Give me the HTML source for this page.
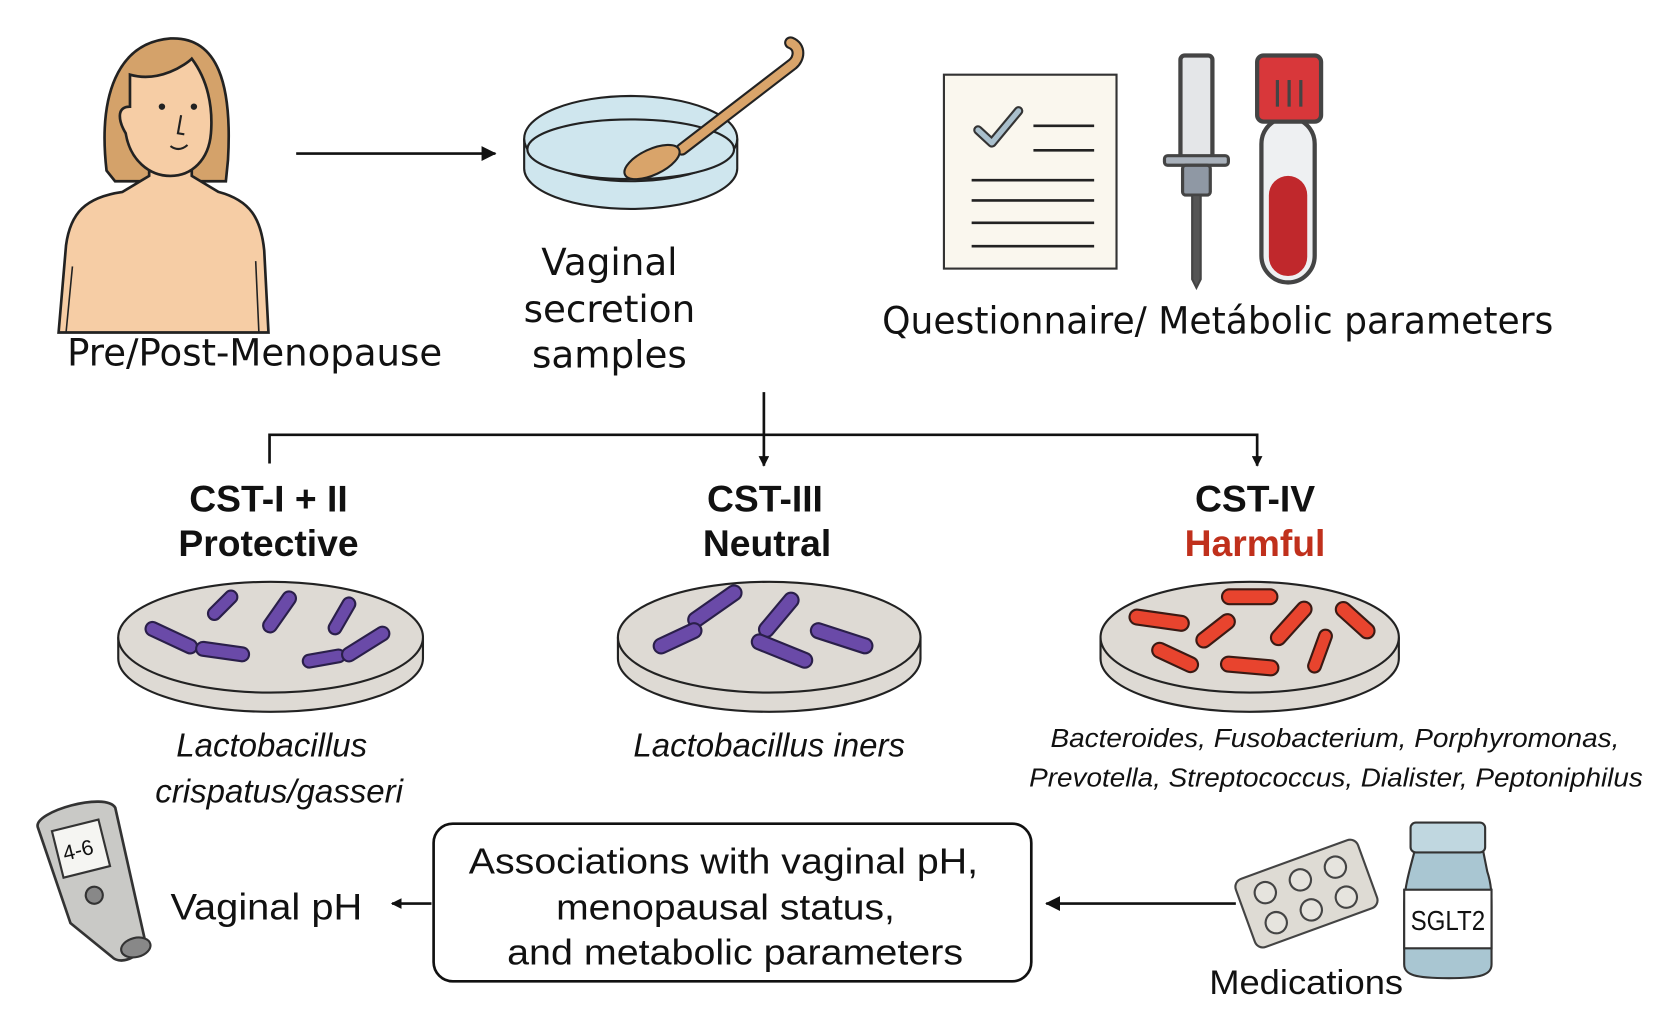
<!DOCTYPE html>
<html><head><meta charset="utf-8"><style>
html,body{margin:0;padding:0;background:#fff;}
svg{display:block;}
.t{font-family:"DejaVu Sans","Liberation Sans",sans-serif;fill:#111;}
.n{font-family:"Liberation Sans",sans-serif;fill:#111;}
.b{font-family:"Liberation Sans",sans-serif;font-weight:bold;fill:#111;}
.i{font-family:"Liberation Sans",sans-serif;font-style:italic;fill:#111;}
</style></head><body>
<svg width="1662" height="1023" viewBox="0 0 1560 960" xmlns="http://www.w3.org/2000/svg">
<defs>
<marker id="ah" markerWidth="10" markerHeight="10" refX="9" refY="5" orient="auto" markerUnits="userSpaceOnUse"><path d="M0,0 L10,5 L0,10 z" fill="#111"/></marker>
<marker id="ah2" markerWidth="14" markerHeight="14" refX="13" refY="7" orient="auto" markerUnits="userSpaceOnUse"><path d="M0,0 L14,7 L0,14 z" fill="#111"/></marker>
</defs>
<rect width="1560" height="960" fill="#fff"/>

<!-- Woman -->
<path d="M100,160 C92,90 110,40 160,36 C205,34 218,80 214,150 L212,170 L108,170 z" fill="#d4a26a" stroke="#222" stroke-width="2.5"/>
<path d="M55,312 L62,230 C66,200 80,185 115,180 L140,165 L140,140 L180,140 L180,165 L205,180 C235,188 245,205 248,235 L252,312 z" fill="#f6cda5" stroke="#222" stroke-width="2.5"/>
<path d="M122,70 C150,78 175,60 180,55 C195,75 200,100 198,125 C196,150 180,165 160,165 C140,165 122,150 118,125 C112,115 108,100 122,100 z" fill="#f6cda5" stroke="#222" stroke-width="2.5"/>
<circle cx="152" cy="100" r="3" fill="#222"/><circle cx="182" cy="100" r="3" fill="#222"/>
<path d="M170,108 L167,125 L173,126" fill="none" stroke="#222" stroke-width="2"/>
<path d="M160,137 Q168,143 176,136" fill="none" stroke="#222" stroke-width="2"/>
<path d="M68,250 L62,312 M240,245 L243,312" stroke="#222" stroke-width="1.5"/>
<text class="t" x="63" y="343" font-size="35" textLength="352" lengthAdjust="spacingAndGlyphs">Pre/Post-Menopause</text>

<line x1="278" y1="144" x2="465" y2="144" stroke="#111" stroke-width="2.5" marker-end="url(#ah2)"/>

<!-- petri dish -->
<path d="M492,130 L492,158 A100,38 0 0 0 692,158 L692,130" fill="#cfe6ee" stroke="#222" stroke-width="2"/>
<ellipse cx="592" cy="130" rx="100" ry="40" fill="#cfe6ee" stroke="#222" stroke-width="2"/>
<ellipse cx="592" cy="140" rx="97" ry="28" fill="#cfe6ee" stroke="#222" stroke-width="2"/>
<path d="M742,40 C752,44 750,55 744,60 L640,140" fill="none" stroke="#222" stroke-width="12" stroke-linecap="round"/>
<path d="M742,40 C752,44 750,55 744,60 L640,140" fill="none" stroke="#d9a46a" stroke-width="8" stroke-linecap="round"/>
<ellipse cx="612" cy="152" rx="28" ry="12" transform="rotate(-25 612 152)" fill="#d9a46a" stroke="#222" stroke-width="2"/>
<text class="t" font-size="35" text-anchor="middle" x="572" y="258">Vaginal</text>
<text class="t" font-size="35" text-anchor="middle" x="572" y="302">secretion</text>
<text class="t" font-size="35" text-anchor="middle" x="572" y="345">samples</text>

<!-- questionnaire -->
<rect x="886" y="70" width="162" height="182" fill="#faf7ee" stroke="#333" stroke-width="2"/>
<path d="M918,122 L931,134 L956,104" fill="none" stroke="#333" stroke-width="9" stroke-linecap="round" stroke-linejoin="round"/>
<path d="M918,122 L931,134 L956,104" fill="none" stroke="#a9bfcc" stroke-width="5" stroke-linecap="round" stroke-linejoin="round"/>
<g stroke="#222" stroke-width="2.5"><line x1="970" y1="118" x2="1027" y2="118"/><line x1="970" y1="141" x2="1027" y2="141"/><line x1="912" y1="169" x2="1027" y2="169"/><line x1="912" y1="188" x2="1027" y2="188"/><line x1="912" y1="209" x2="1027" y2="209"/><line x1="912" y1="231" x2="1027" y2="231"/></g>
<!-- lancet -->
<rect x="1108" y="52" width="30" height="100" rx="4" fill="#e4e6e8" stroke="#444" stroke-width="4"/>
<rect x="1093" y="146" width="60" height="9" rx="3" fill="#a9b1bb" stroke="#444" stroke-width="3"/>
<rect x="1110" y="155" width="26" height="28" rx="3" fill="#8f98a4" stroke="#444" stroke-width="3"/>
<path d="M1119,183 L1127,183 L1127,262 L1123,270 L1119,262 z" fill="#555" stroke="#444" stroke-width="2"/>
<!-- tube -->
<rect x="1184" y="110" width="50" height="155" rx="25" fill="#eef0f2" stroke="#444" stroke-width="4"/>
<rect x="1191" y="165" width="36" height="94" rx="18" fill="#c0282c"/>
<rect x="1180" y="52" width="60" height="62" rx="6" fill="#d8373a" stroke="#444" stroke-width="4"/>
<g stroke="#444" stroke-width="3"><line x1="1199" y1="75" x2="1199" y2="100"/><line x1="1210" y1="75" x2="1210" y2="100"/><line x1="1221" y1="75" x2="1221" y2="100"/></g>
<text class="t" x="828" y="313" font-size="35" textLength="630" lengthAdjust="spacingAndGlyphs">Questionnaire/ Metábolic parameters</text>

<line x1="717" y1="368" x2="717" y2="437" stroke="#111" stroke-width="2.5" marker-end="url(#ah)"/>
<polyline points="253,435 253,408 1180,408 1180,437" fill="none" stroke="#111" stroke-width="2.5" marker-end="url(#ah)"/>

<text class="b" font-size="35" text-anchor="middle" x="252" y="480">CST-I + II</text>
<text class="b" font-size="35" text-anchor="middle" x="252" y="522">Protective</text>
<text class="b" font-size="35" text-anchor="middle" x="718" y="480">CST-III</text>
<text class="b" font-size="35" text-anchor="middle" x="720" y="522">Neutral</text>
<text class="b" font-size="35" text-anchor="middle" x="1178" y="480">CST-IV</text>
<text class="b" font-size="35" text-anchor="middle" x="1178" y="522" style="fill:#c0301c">Harmful</text>

<g stroke="#222" stroke-width="2">
<path d="M111,598 L111,618 A143,50 0 0 0 397,618 L397,598" fill="#dedad4"/>
<ellipse cx="254" cy="598" rx="143" ry="52" fill="#dedad4"/>
<path d="M580,598 L580,618 A142,50 0 0 0 864,618 L864,598" fill="#dedad4"/>
<ellipse cx="722" cy="598" rx="142" ry="52" fill="#dedad4"/>
<path d="M1033,598 L1033,618 A140,50 0 0 0 1313,618 L1313,598" fill="#dedad4"/>
<ellipse cx="1173" cy="598" rx="140" ry="52" fill="#dedad4"/>
</g>
<g fill="#6a4aa8" stroke="#2a1f4a" stroke-width="2">
<rect x="192" y="562" width="34" height="12" rx="6" transform="rotate(-45 209 568)"/>
<rect x="240" y="568" width="44" height="13" rx="6.5" transform="rotate(-55 262 574)"/>
<rect x="302" y="572" width="38" height="12" rx="6" transform="rotate(-60 321 578)"/>
<rect x="135" y="592" width="52" height="13" rx="6.5" transform="rotate(25 161 598)"/>
<rect x="184" y="605" width="50" height="13" rx="6.5" transform="rotate(8 209 611)"/>
<rect x="284" y="612" width="40" height="12" rx="6" transform="rotate(-10 304 618)"/>
<rect x="318" y="598" width="50" height="13" rx="6.5" transform="rotate(-32 343 604)"/>
<rect x="642" y="562" width="58" height="14" rx="7" transform="rotate(-35 671 569)"/>
<rect x="612" y="592" width="48" height="14" rx="7" transform="rotate(-25 636 599)"/>
<rect x="706" y="570" width="50" height="14" rx="7" transform="rotate(-50 731 577)"/>
<rect x="704" y="604" width="60" height="14" rx="7" transform="rotate(22 734 611)"/>
<rect x="760" y="592" width="60" height="14" rx="7" transform="rotate(18 790 599)"/>
</g>
<g fill="#e8442e" stroke="#3a1a14" stroke-width="2">
<rect x="1147" y="553" width="52" height="14" rx="7"/>
<rect x="1060" y="575" width="56" height="14" rx="7" transform="rotate(8 1088 582)"/>
<rect x="1120" y="585" width="42" height="14" rx="7" transform="rotate(-38 1141 592)"/>
<rect x="1187" y="578" width="50" height="14" rx="7" transform="rotate(-48 1212 585)"/>
<rect x="1250" y="575" width="44" height="14" rx="7" transform="rotate(42 1272 582)"/>
<rect x="1080" y="610" width="46" height="14" rx="7" transform="rotate(25 1103 617)"/>
<rect x="1146" y="618" width="54" height="14" rx="7" transform="rotate(5 1173 625)"/>
<rect x="1218" y="605" width="42" height="12" rx="6" transform="rotate(-70 1239 611)"/>
</g>

<text class="i" font-size="31" text-anchor="middle" x="255" y="710">Lactobacillus</text>
<text class="i" font-size="31" text-anchor="middle" x="262" y="753">crispatus/gasseri</text>
<text class="i" font-size="31" text-anchor="middle" x="722" y="710">Lactobacillus iners</text>
<text class="i" font-size="24" x="986" y="701" textLength="534" lengthAdjust="spacingAndGlyphs">Bacteroides, Fusobacterium, Porphyromonas,</text>
<text class="i" font-size="24" x="966" y="738" textLength="576" lengthAdjust="spacingAndGlyphs">Prevotella, Streptococcus, Dialister, Peptoniphilus</text>

<g transform="rotate(-14 88 830)">
<path d="M50,765 C50,750 120,748 125,765 L122,890 C120,905 95,912 88,900 L58,860 z" fill="#c9c9c6" stroke="#333" stroke-width="2.5"/>
<rect x="62" y="772" width="45" height="45" fill="#f5f5f2" stroke="#333" stroke-width="2"/>
<text class="n" font-size="20" x="67" y="802">4-6</text>
<circle cx="86" cy="840" r="8" fill="#888" stroke="#333" stroke-width="2"/>
<ellipse cx="112" cy="897" rx="14" ry="9" fill="#888" stroke="#333" stroke-width="2"/>
</g>
<text class="n" x="160" y="863" font-size="35" textLength="180" lengthAdjust="spacingAndGlyphs">Vaginal pH</text>
<line x1="405" y1="848" x2="368" y2="848" stroke="#111" stroke-width="2.5" marker-end="url(#ah)"/>

<rect x="407" y="773" width="561" height="148" rx="18" fill="#fff" stroke="#111" stroke-width="2.5"/>
<text class="n" font-size="34" x="440" y="820" textLength="478" lengthAdjust="spacingAndGlyphs">Associations with vaginal pH,</text>
<text class="n" font-size="34" x="522" y="863" textLength="318" lengthAdjust="spacingAndGlyphs">menopausal status,</text>
<text class="n" font-size="34" x="476" y="905" textLength="428" lengthAdjust="spacingAndGlyphs">and metabolic parameters</text>

<line x1="1160" y1="848" x2="982" y2="848" stroke="#111" stroke-width="2.5" marker-end="url(#ah2)"/>

<g transform="rotate(-20 1225 838)">
<rect x="1165" y="805" width="122" height="68" rx="8" fill="#dedbd4" stroke="#444" stroke-width="2"/>
<g fill="#e6e4de" stroke="#444" stroke-width="2">
<circle cx="1190" cy="825" r="10"/><circle cx="1225" cy="825" r="10"/><circle cx="1260" cy="825" r="10"/>
<circle cx="1190" cy="855" r="10"/><circle cx="1225" cy="855" r="10"/><circle cx="1260" cy="855" r="10"/>
</g></g>
<path d="M1328,798 L1392,798 L1396,818 C1400,830 1400,840 1400,850 L1400,905 C1400,915 1390,918 1360,918 C1328,918 1318,915 1318,905 L1318,850 C1318,835 1322,820 1328,798 z" fill="#a9c6d2" stroke="#333" stroke-width="2"/>
<rect x="1324" y="772" width="70" height="28" rx="5" fill="#c0d7e0" stroke="#333" stroke-width="2"/>
<rect x="1318" y="835" width="82" height="55" fill="#fff" stroke="#333" stroke-width="2"/>
<text class="n" font-size="26" x="1324" y="873" textLength="70" lengthAdjust="spacingAndGlyphs">SGLT2</text>
<text class="n" x="1135" y="933" font-size="32" textLength="182" lengthAdjust="spacingAndGlyphs">Medications</text>
</svg>
</body></html>
